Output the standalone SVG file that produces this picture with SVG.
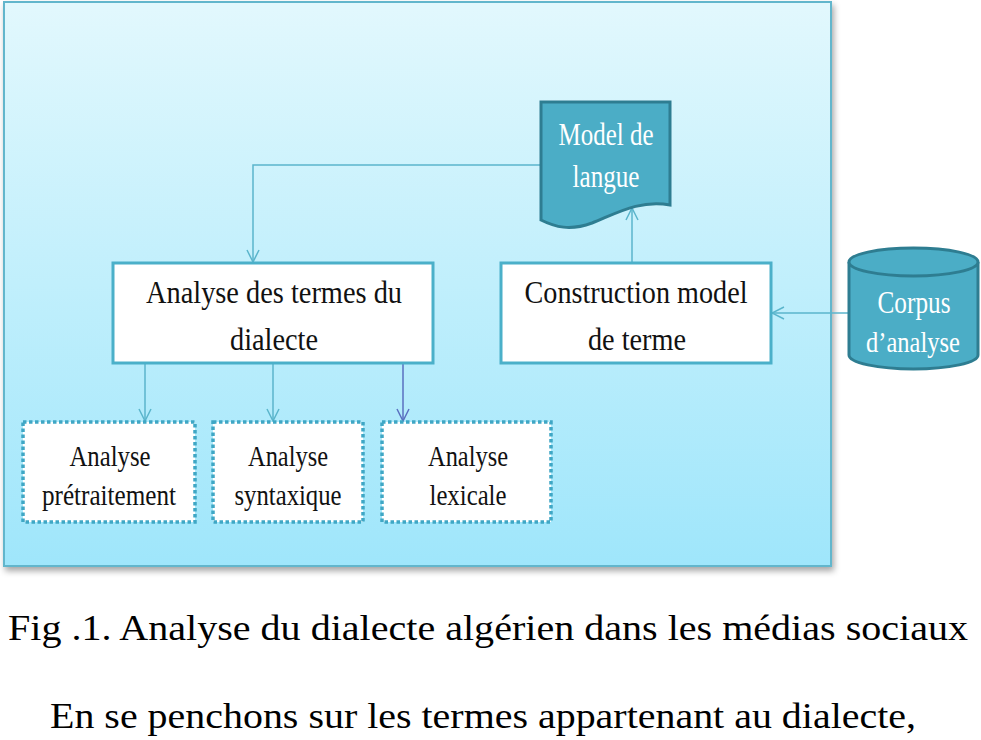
<svg xmlns="http://www.w3.org/2000/svg" width="981" height="740" viewBox="0 0 981 740">
<defs>
<linearGradient id="bg" x1="0" y1="0" x2="0" y2="1">
<stop offset="0" stop-color="#e2f8fd"/>
<stop offset="1" stop-color="#9fe6fb"/>
</linearGradient>
<filter id="sh" x="-5%" y="-5%" width="110%" height="110%">
<feDropShadow dx="2" dy="4" stdDeviation="3" flood-color="#000" flood-opacity="0.35"/>
</filter>
<marker id="ah" viewBox="0 0 14 14" refX="13" refY="7" markerWidth="14" markerHeight="14" markerUnits="userSpaceOnUse" orient="auto">
<path d="M1,1 L13,7 L1,13" fill="none" stroke="#5bb5cc" stroke-width="1.5"/>
</marker>
<marker id="ah2" viewBox="0 0 14 14" refX="13" refY="7" markerWidth="14" markerHeight="14" markerUnits="userSpaceOnUse" orient="auto">
<path d="M1,1 L13,7 L1,13" fill="none" stroke="#5a70c0" stroke-width="1.5"/>
</marker>
</defs>
<style>
text{font-family:'Liberation Serif','Times New Roman',Tinos,serif}
.t{fill:#111;text-anchor:middle}
.w{fill:#fff;text-anchor:middle}
.box{fill:#fff;stroke:#4bb0c9;stroke-width:3}
.dash{fill:#fff;stroke:#3fa7c5;stroke-width:3.5;stroke-dasharray:3.5 2.5}
.dark{fill:#4badc6;stroke:#2e7d91;stroke-width:3}
.c{fill:none;stroke:#5bb5cc;stroke-width:1.5}
.cap{fill:#000;font-size:35px}
</style>
<rect x="4" y="2" width="827" height="564" fill="url(#bg)" stroke="#62b6cc" stroke-width="2" filter="url(#sh)"/>
<g id="connectors">
<path class="c" d="M541,165 H253 V262" marker-end="url(#ah)"/>
<path class="c" d="M632,263 V208" marker-end="url(#ah)"/>
<path class="c" d="M849,313 H772" marker-end="url(#ah)"/>
<path class="c" d="M145,364 V421" marker-end="url(#ah)"/>
<path class="c" d="M273,364 V421" marker-end="url(#ah)"/>
<path class="c" d="M403,364 V421" style="stroke:#5a70c0" marker-end="url(#ah2)"/>
</g>
<g id="model-langue">
<path class="dark" d="M541,102 H670 V205 C640,199 615,214 592,223 C570,231 555,227 541,220 Z"/>
<text class="w" x="606" y="145" font-size="31" textLength="95" lengthAdjust="spacingAndGlyphs">Model de</text>
<text class="w" x="606" y="187" font-size="31" textLength="67" lengthAdjust="spacingAndGlyphs">langue</text>
</g>
<g id="analyse-termes">
<rect class="box" x="113" y="263" width="320" height="100"/>
<text class="t" x="274" y="303" font-size="32" textLength="256" lengthAdjust="spacingAndGlyphs">Analyse des termes du</text>
<text class="t" x="274" y="350" font-size="32" textLength="88" lengthAdjust="spacingAndGlyphs">dialecte</text>
</g>
<g id="construction">
<rect class="box" x="501" y="263" width="270" height="100"/>
<text class="t" x="636" y="303" font-size="32" textLength="223" lengthAdjust="spacingAndGlyphs">Construction model</text>
<text class="t" x="637" y="350" font-size="32" textLength="98" lengthAdjust="spacingAndGlyphs">de terme</text>
</g>
<g id="corpus">
<path class="dark" d="M849,262 V355 A64.5,14 0 0 0 978,355 V262"/>
<ellipse class="dark" cx="913.5" cy="262" rx="64.5" ry="14"/>
<text class="w" x="914" y="313" font-size="31" textLength="73" lengthAdjust="spacingAndGlyphs">Corpus</text>
<text class="w" x="913" y="352" font-size="30" textLength="94" lengthAdjust="spacingAndGlyphs">d’analyse</text>
</g>
<g id="pretraitement">
<rect class="dash" x="23" y="422" width="172" height="100"/>
<text class="t" x="110" y="466" font-size="30" textLength="81" lengthAdjust="spacingAndGlyphs">Analyse</text>
<text class="t" x="109" y="505" font-size="30" textLength="134" lengthAdjust="spacingAndGlyphs">prétraitement</text>
</g>
<g id="syntaxique">
<rect class="dash" x="213" y="422" width="150" height="100"/>
<text class="t" x="288" y="466" font-size="30" textLength="80" lengthAdjust="spacingAndGlyphs">Analyse</text>
<text class="t" x="288" y="505" font-size="30" textLength="107" lengthAdjust="spacingAndGlyphs">syntaxique</text>
</g>
<g id="lexicale">
<rect class="dash" x="382" y="422" width="169" height="100"/>
<text class="t" x="468" y="466" font-size="30" textLength="80" lengthAdjust="spacingAndGlyphs">Analyse</text>
<text class="t" x="468" y="505" font-size="30" textLength="77" lengthAdjust="spacingAndGlyphs">lexicale</text>
</g>
<text class="cap" x="8" y="640" textLength="960" lengthAdjust="spacingAndGlyphs">Fig .1. Analyse du dialecte algérien dans les médias sociaux</text>
<text class="cap" x="50" y="728" textLength="866" lengthAdjust="spacingAndGlyphs">En se penchons sur les termes appartenant au dialecte,</text>
</svg>
